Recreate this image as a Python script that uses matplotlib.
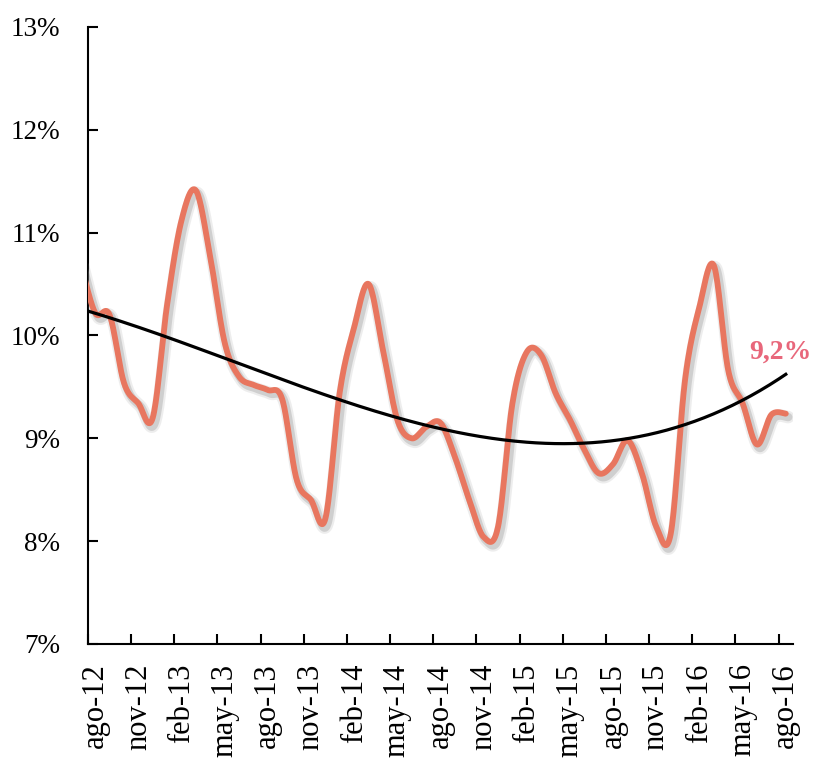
import numpy as np
import matplotlib
matplotlib.use("Agg")
import matplotlib.pyplot as plt
import matplotlib.ticker as ticker
import matplotlib.patheffects as pe

# monthly rate, jul-12 .. ago-16 (jul-12 sits left of the axis and is clipped)
months = ["jul-12",
          "ago-12", "sep-12", "oct-12", "nov-12", "dic-12", "ene-13", "feb-13", "mar-13",
          "abr-13", "may-13", "jun-13", "jul-13", "ago-13", "sep-13", "oct-13", "nov-13",
          "dic-13", "ene-14", "feb-14", "mar-14", "abr-14", "may-14", "jun-14", "jul-14",
          "ago-14", "sep-14", "oct-14", "nov-14", "dic-14", "ene-15", "feb-15", "mar-15",
          "abr-15", "may-15", "jun-15", "jul-15", "ago-15", "sep-15", "oct-15", "nov-15",
          "dic-15", "ene-16", "feb-16", "mar-16", "abr-16", "may-16", "jun-16", "jul-16",
          "ago-16"]
rate = [10.70,
        10.22, 10.20, 9.54, 9.34, 9.20, 10.30, 11.12, 11.41,
        10.76, 9.93, 9.60, 9.52, 9.47, 9.38, 8.60, 8.40,
        8.22, 9.45, 10.08, 10.50, 9.86, 9.18, 9.00, 9.11,
        9.15, 8.82, 8.40, 8.04, 8.14, 9.34, 9.84, 9.81,
        9.44, 9.18, 8.89, 8.66, 8.75, 8.98, 8.66, 8.14,
        8.07, 9.57, 10.28, 10.68, 9.66, 9.34, 8.94, 9.23,
        9.24]
last_label = "9,2%"

line_color = "#E8765F"
label_color = "#E8677B"


def catmull_rom(x, y, n=20):
  # smooth curve through every point, like a spreadsheet "smoothed line"
  x = np.asarray(x, float)
  y = np.asarray(y, float)
  xp = np.concatenate([[x[0]], x, [x[-1]]])
  yp = np.concatenate([[y[0]], y, [y[-1]]])
  xs, ys = [], []
  t = np.linspace(0, 1, n, endpoint=False)
  for k in range(1, len(xp) - 2):
    for arr, out in ((xp, xs), (yp, ys)):
      p0, p1, p2, p3 = arr[k - 1], arr[k], arr[k + 1], arr[k + 2]
      out.append(0.5 * (2 * p1 + (-p0 + p2) * t + (2 * p0 - 5 * p1 + 4 * p2 - p3) * t ** 2
                        + (-p0 + 3 * p1 - 3 * p2 + p3) * t ** 3))
  xs.append([x[-1]])
  ys.append([y[-1]])
  return np.concatenate(xs), np.concatenate(ys)


plt.rcParams['font.family'] = ['Liberation Serif', 'DejaVu Serif']

fig = plt.figure(figsize=(8.17, 7.58), dpi=100)
ax = fig.add_axes([0.1077, 0.1504, 0.8629, 0.8140])

pos = np.arange(len(rate)) - 1
sx, sy = catmull_rom(pos, rate)

shadow = [pe.SimpleLineShadow(offset=(1.8, -2.5), shadow_color='#8c8c8c', alpha=0.15, linewidth=9),
          pe.SimpleLineShadow(offset=(1.8, -2.5), shadow_color='#8c8c8c', alpha=0.3, linewidth=6),
          pe.Normal()]
ax.plot(sx, sy, color=line_color, lw=4.2, solid_capstyle='round', path_effects=shadow, zorder=3)

# polynomial trend (order 3) over the visible months
coef = np.polyfit(pos[1:], rate[1:], 3)
tx = np.linspace(-0.5, pos[-1], 300)
ax.plot(tx, np.polyval(coef, tx), color='black', lw=2.3, zorder=4)

ax.text(47.6, 9.84, last_label, color=label_color, fontsize=20, fontweight='bold',
        ha='center', va='center')

ax.set_xlim(-0.5, 48.5)
ax.set_ylim(7, 13)

ax.spines['top'].set_visible(False)
ax.spines['right'].set_visible(False)
ax.spines['left'].set_linewidth(1.5)
ax.spines['bottom'].set_linewidth(1.5)

ax.yaxis.set_major_locator(ticker.MultipleLocator(1))
ax.yaxis.set_major_formatter(ticker.FuncFormatter(lambda v, p: "{:.0f}%".format(v)))
ax.tick_params(axis='y', direction='in', length=7, width=1.5, pad=20, labelsize=19.5)

label_pos = pos[1::3]
ax.set_xticks(label_pos)
ax.set_xticklabels(months[1::3], rotation=90, fontsize=22)
ax.set_xticks(np.arange(-0.5, 48, 3), minor=True)
ax.tick_params(axis='x', which='major', length=0, pad=14)
ax.tick_params(axis='x', which='minor', direction='in', length=7, width=1.5)

fig.savefig('out.png', dpi=100)
